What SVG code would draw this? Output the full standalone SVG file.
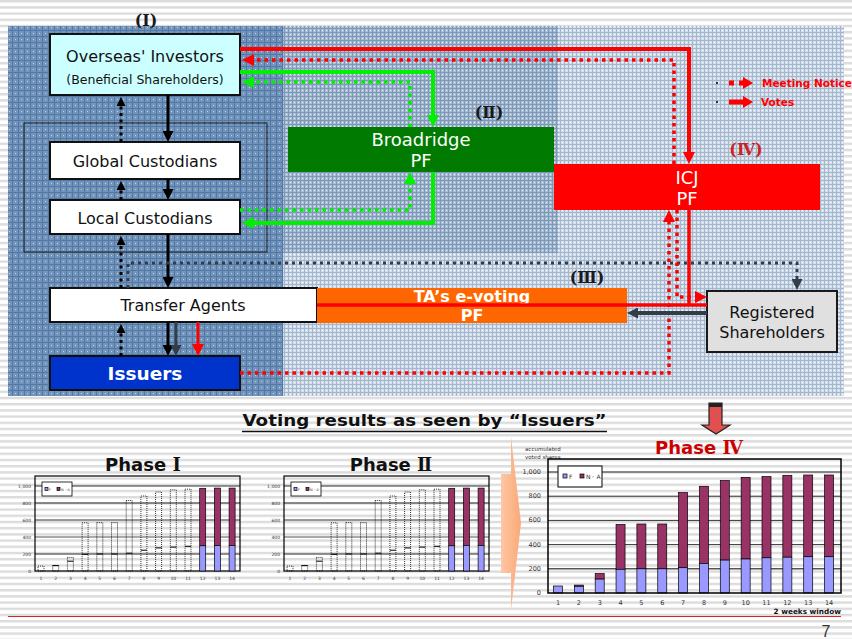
<svg xmlns="http://www.w3.org/2000/svg" width="852" height="639" viewBox="0 0 852 639">
<defs>
<style>
.t{font-family:"DejaVu Sans","Noto Sans CJK JP",sans-serif}
.lbl{font-size:16px;fill:#111;text-anchor:middle}
.wt{font-size:18px;fill:#fff;text-anchor:middle}
.wb{fill:#fff;font-weight:bold;text-anchor:middle}
.rn{font-family:"DejaVu Serif","Noto Sans CJK JP",serif;font-size:16px;font-weight:bold;text-anchor:middle;fill:#1a1a1a}
.cj{font-family:"DejaVu Serif","Noto Sans CJK JP",serif}
.box{stroke:#111;stroke-width:2}
.vr{fill:none;stroke:#ff0000;stroke-width:4}
.nr{fill:none;stroke:#ff0000;stroke-width:3.5;stroke-dasharray:3.5 4}
.vg{fill:none;stroke:#00f000;stroke-width:4}
.ng{fill:none;stroke:#00f000;stroke-width:3.5;stroke-dasharray:3.5 4}
.vk{fill:none;stroke:#000;stroke-width:3}
.nk{fill:none;stroke:#000;stroke-width:3;stroke-dasharray:3 3.5}
.vd{fill:none;stroke:#333d47;stroke-width:3}
.nd{fill:none;stroke:#333d47;stroke-width:3;stroke-dasharray:3 4}
.grid{stroke:#000;stroke-width:0.8}
.tk{font-family:"DejaVu Sans",sans-serif;fill:#333}
.pu{fill:#993366;stroke:#000;stroke-width:0.7}
.bl{fill:#9999ff;stroke:#000;stroke-width:0.7}
.dot{fill:none;stroke:#000;stroke-width:0.8;stroke-dasharray:1 1}
.ph{font-family:"DejaVu Sans","Noto Sans CJK JP",sans-serif;font-weight:bold;font-size:18px;text-anchor:middle}
</style>
<pattern id="stripes" width="10" height="6.2" patternUnits="userSpaceOnUse"><rect width="10" height="6.2" fill="#fff"/><rect width="10" height="2.4" fill="#dcdcdc"/></pattern>
<pattern id="pDark" width="6" height="6" patternUnits="userSpaceOnUse"><rect width="6" height="6" fill="#7394bb"/><path d="M0 0.5H6M0.5 0V6" stroke="#5279a5" stroke-width="1"/><rect x="3" y="3" width="1" height="1" fill="#c3d3e6"/></pattern>
<pattern id="pMid" width="4" height="4" patternUnits="userSpaceOnUse"><rect width="4" height="4" fill="#aabdd3"/><path d="M0 0.5H4M0.5 0V4" stroke="#7d9abb" stroke-width="1"/><rect x="2" y="2" width="1" height="1" fill="#eef3f8"/></pattern>
<pattern id="pLight" width="4" height="4" patternUnits="userSpaceOnUse"><rect width="4" height="4" fill="#d3deea"/><path d="M0 0.5H4M0.5 0V4" stroke="#a3b8cf" stroke-width="1"/><rect x="2" y="2" width="1" height="1" fill="#ffffff"/></pattern>
<linearGradient id="gOr" x1="0" y1="0" x2="1" y2="0"><stop offset="0" stop-color="#ffc7a4"/><stop offset="1" stop-color="#fba877"/></linearGradient>
<marker id="mR" markerWidth="12" markerHeight="12" refX="4" refY="6" orient="auto" markerUnits="userSpaceOnUse"><path d="M0,0L12,6L0,12z" fill="#ff0000"/></marker>
<marker id="mG" markerWidth="12" markerHeight="12" refX="4" refY="6" orient="auto" markerUnits="userSpaceOnUse"><path d="M0,0L12,6L0,12z" fill="#00f000"/></marker>
<marker id="mK" markerWidth="11" markerHeight="11" refX="3" refY="5.5" orient="auto" markerUnits="userSpaceOnUse"><path d="M0,0L11,5.5L0,11z" fill="#000"/></marker>
<marker id="mKs" markerWidth="9" markerHeight="9" refX="1" refY="4.5" orient="auto" markerUnits="userSpaceOnUse"><path d="M0,0L9,4.5L0,9z" fill="#000"/></marker>
<marker id="mD" markerWidth="11" markerHeight="11" refX="3" refY="5.5" orient="auto" markerUnits="userSpaceOnUse"><path d="M0,0L11,5.5L0,11z" fill="#333d47"/></marker>
</defs>

<!-- page background -->
<rect width="852" height="639" fill="url(#stripes)"/>

<!-- panel -->
<rect x="8" y="26" width="275" height="370" fill="url(#pDark)"/>
<rect x="283" y="26" width="275" height="227" fill="url(#pMid)"/>
<rect x="558" y="26" width="286" height="227" fill="url(#pLight)"/>
<rect x="283" y="253" width="561" height="143" fill="url(#pLight)"/>

<!-- phase labels -->
<text class="rn" x="146" y="26">(Ⅰ)</text>
<text class="rn" x="489" y="118">(Ⅱ)</text>
<text class="rn" x="587" y="283">(Ⅲ)</text>
<text class="rn" x="746" y="155" style="fill:#cc2222">(Ⅳ)</text>

<!-- legend -->
<g id="legend">
<rect x="716" y="82" width="2" height="2" fill="#333"/>
<rect x="716" y="101" width="2" height="2" fill="#333"/>
<rect x="729" y="80.5" width="5" height="5" fill="#ff0000"/>
<rect x="739" y="80.5" width="6" height="5" fill="#ff0000"/>
<path d="M743,77L753,83L743,89z" fill="#ff0000"/>
<rect x="729" y="99.5" width="16" height="5" fill="#ff0000"/>
<path d="M743,96L753,102L743,108z" fill="#ff0000"/>
<text class="t" x="762" y="87" font-size="10.5" font-weight="bold" fill="#ff0000">Meeting Notice</text>
<text class="t" x="761" y="106" font-size="10.5" font-weight="bold" fill="#ff0000">Votes</text>
</g>

<!-- custodian grouping -->
<rect id="custodians" x="24" y="123" width="243" height="129" fill="none" stroke="#1a1a1a" stroke-width="1"/>

<!-- nodes -->
<g id="overseas">
<rect x="50" y="34" width="190" height="61" fill="#ccffff" class="box"/>
<text class="t lbl" x="145" y="62">Overseas' Investors</text>
<text class="t" x="145" y="84" font-size="12.5" text-anchor="middle" fill="#111">(Beneficial Shareholders)</text>
</g>
<g id="global">
<rect x="50" y="142" width="190" height="37" fill="#fff" class="box"/>
<text class="t lbl" x="145" y="167">Global Custodians</text>
</g>
<g id="local">
<rect x="50" y="200" width="190" height="34" fill="#fff" class="box"/>
<text class="t lbl" x="145" y="224">Local Custodians</text>
</g>
<g id="transfer">
<rect x="50" y="288" width="267" height="34" fill="#fff" class="box"/>
<text class="t lbl" x="183" y="311">Transfer Agents</text>
</g>
<g id="issuers">
<rect x="50" y="356" width="190" height="34" fill="#0033cc" class="box"/>
<text class="t wb" x="145" y="380" font-size="18.5">Issuers</text>
</g>
<g id="broadridge">
<rect x="288" y="127" width="266" height="45" fill="#007a00"/>
<text class="t wt" x="421" y="146">Broadridge</text>
<text class="t wt" x="421" y="167">PF</text>
</g>
<g id="icj">
<rect x="554" y="164" width="266" height="46" fill="#ff0000"/>
<text class="t wt" x="687" y="184">ICJ</text>
<text class="t wt" x="687" y="205">PF</text>
</g>
<g id="ta-evoting">
<rect x="317" y="288" width="310" height="35" fill="#ff6600"/>
<text class="t wb" x="472" y="302" font-size="16">TA’s e-voting</text>
<text class="t wb" x="472" y="321" font-size="16">PF</text>
</g>
<g id="registered">
<rect x="707" y="291" width="130" height="61" fill="#e0e0e0" stroke="#1a1a1a" stroke-width="2"/>
<text class="t lbl" x="772" y="318">Registered</text>
<text class="t lbl" x="772" y="338">Shareholders</text>
</g>

<!-- connectors -->
<g id="connectors">
<path class="vr" d="M240,49H689V156" marker-end="url(#mR)"/>
<path class="nr" d="M674,164V60H250" marker-end="url(#mR)"/>
<path class="vg" d="M240,72H433V119" marker-end="url(#mG)"/>
<path class="ng" d="M410,127V82H250" marker-end="url(#mG)"/>
<path class="ng" d="M240,210H410V180" marker-end="url(#mG)"/>
<path class="vg" d="M433,172V223H250" marker-end="url(#mG)"/>
<path class="vk" d="M168,95V134" marker-end="url(#mK)"/>
<path class="vk" d="M168,179V192" marker-end="url(#mK)"/>
<path class="vk" d="M168,234V280" marker-end="url(#mK)"/>
<path class="vk" d="M168,322V348" marker-end="url(#mK)"/>
<path class="nk" d="M121,142V105" marker-end="url(#mKs)"/>
<path class="nk" d="M121,200V189" marker-end="url(#mKs)"/>
<path class="nk" d="M121,288V244" marker-end="url(#mKs)"/>
<path class="nk" d="M121,356V332" marker-end="url(#mKs)"/>
<path class="nd" d="M128,288V263H797V282" marker-end="url(#mD)"/>
<path class="vd" d="M176,322V348" marker-end="url(#mD)"/>
<path class="vr" style="stroke-width:3" d="M198,322V348" marker-end="url(#mR)"/>
<path class="nr" d="M240,373H669V218" marker-end="url(#mR)"/>
<path class="nr" d="M677,210V297H699" marker-end="url(#mR)"/>
<path class="vr" style="stroke-width:3.5" d="M689,210V305"/>
<path class="vr" style="stroke-width:3.5" d="M707,305H317"/>
<path class="vd" style="stroke-width:4" d="M707,313H635" marker-end="url(#mD)"/>
</g>

<!-- bottom section -->
<text class="t" x="424.5" y="426" font-size="16" font-weight="bold" text-anchor="middle" fill="#111" textLength="364" lengthAdjust="spacingAndGlyphs">Voting results as seen by “Issuers”</text>
<line x1="242" y1="431.5" x2="607" y2="431.5" stroke="#111" stroke-width="1.5"/>

<path d="M709,403H722V425H730L716,434L702,425H709z" fill="#e05050" stroke="#222" stroke-width="1.2"/>
<rect x="709" y="403" width="13" height="4" fill="#222"/>

<text class="ph" x="143" y="471" fill="#111">Phase <tspan class="cj">Ⅰ</tspan></text>
<text class="ph" x="391" y="471" fill="#111">Phase <tspan class="cj">Ⅱ</tspan></text>
<text class="ph" x="699" y="454" style="fill:#cc0000">Phase <tspan class="cj">Ⅳ</tspan></text>

<path d="M501,474H511V437L521,523L511,610V573H501z" fill="url(#gOr)"/>

<!-- Phase I chart (reused for Phase II) -->
<g id="chart1">
<path class="grid" d="M35,486H240M35,503H240M35,520H240M35,554H240"/>
<path d="M35,537H240" stroke="#555" stroke-width="1.2"/>
<rect x="35" y="476" width="205" height="95" fill="none" stroke="#000" stroke-width="1.2"/>
<g class="tk" font-size="4.5" text-anchor="end">
<text x="31" y="487.5">1,000</text><text x="31" y="504.5">800</text><text x="31" y="521.5">600</text><text x="31" y="538.5">400</text><text x="31" y="555.5">200</text><text x="31" y="572.5">0</text>
</g>
<g class="tk" font-size="4.5" text-anchor="middle">
<text x="41" y="580">1</text><text x="55.7" y="580">2</text><text x="70.4" y="580">3</text><text x="85.1" y="580">4</text><text x="99.8" y="580">5</text><text x="114.5" y="580">6</text><text x="129.2" y="580">7</text><text x="143.9" y="580">8</text><text x="158.6" y="580">9</text><text x="173.3" y="580">10</text><text x="188" y="580">11</text><text x="202.7" y="580">12</text><text x="217.4" y="580">13</text><text x="232.1" y="580">14</text>
</g>
<rect x="42" y="482" width="30" height="14" fill="#fff" stroke="#000" stroke-width="0.8"/>
<rect x="45" y="487.5" width="3" height="3" class="bl"/><text class="tk" x="49" y="490.5" font-size="3.5">F</text>
<rect x="57" y="487.5" width="3" height="3" class="pu"/><text class="tk" x="61" y="490.5" font-size="3.5">N・A</text>
<rect class="dot" x="38" y="566.1" width="6" height="4.9"/>
<rect class="dot" x="52.7" y="565.5" width="6" height="5.5"/>
<rect class="dot" x="67.4" y="557.4" width="6" height="13.6"/>
<rect class="dot" x="82.1" y="522.8" width="6" height="48.2"/>
<rect class="dot" x="96.8" y="522.6" width="6" height="48.4"/>
<rect class="dot" x="111.5" y="522.6" width="6" height="48.4"/>
<rect class="dot" x="126.2" y="500.5" width="6" height="70.5"/>
<rect class="dot" x="140.9" y="496" width="6" height="75"/>
<rect class="dot" x="155.6" y="492" width="6" height="79"/>
<rect class="dot" x="170.3" y="489.8" width="6" height="81.2"/>
<rect class="dot" x="185" y="489.2" width="6" height="81.8"/>
<path stroke="#000" stroke-width="1" d="M52.7,565.6h6M67.4,561.2h6M82.1,554.3h6M96.8,554h6M111.5,554h6M126.2,553.2h6M140.9,550.2h6M155.6,547.9h6M170.3,547.1h6M185,546.3h6"/>
<rect class="pu" x="199.7" y="488.3" width="6" height="57.5"/><rect class="bl" x="199.7" y="545.8" width="6" height="25.2"/>
<rect class="pu" x="214.4" y="488.1" width="6" height="57.4"/><rect class="bl" x="214.4" y="545.5" width="6" height="25.5"/>
<rect class="pu" x="229.1" y="488.1" width="6" height="57.4"/><rect class="bl" x="229.1" y="545.5" width="6" height="25.5"/>
</g>
<use href="#chart1" x="249"/>

<!-- Phase IV chart -->
<g id="chart4">
<text class="tk" x="525" y="451" font-size="5.5">accumulated</text>
<text class="tk" x="525" y="459" font-size="5.5">voted shares</text>
<path class="grid" d="M548,472H841M548,496.2H841M548,520.4H841M548,544.6H841"/>
<path d="M548,568.8H841" stroke="#555" stroke-width="1.5"/>
<g class="tk" font-size="6.5" text-anchor="end">
<text x="541" y="474">1,000</text><text x="541" y="498.2">800</text><text x="541" y="522.4">600</text><text x="541" y="546.6">400</text><text x="541" y="570.8">200</text><text x="541" y="595">0</text>
</g>
<g class="tk" font-size="6.5" text-anchor="middle">
<text x="558" y="605">1</text><text x="578.85" y="605">2</text><text x="599.7" y="605">3</text><text x="620.55" y="605">4</text><text x="641.4" y="605">5</text><text x="662.25" y="605">6</text><text x="683.1" y="605">7</text><text x="703.95" y="605">8</text><text x="724.8" y="605">9</text><text x="745.65" y="605">10</text><text x="766.5" y="605">11</text><text x="787.35" y="605">12</text><text x="808.2" y="605">13</text><text x="829.05" y="605">14</text>
</g>
<rect class="bl" x="553.5" y="586" width="9" height="7"/>
<rect class="pu" x="574.35" y="585.1" width="9" height="1.2"/><rect class="bl" x="574.35" y="586.3" width="9" height="6.7"/>
<rect class="pu" x="595.2" y="573.6" width="9" height="5.5"/><rect class="bl" x="595.2" y="579.1" width="9" height="13.9"/>
<rect class="pu" x="616.05" y="524.4" width="9" height="44.9"/><rect class="bl" x="616.05" y="569.3" width="9" height="23.7"/>
<rect class="pu" x="636.9" y="524" width="9" height="44.8"/><rect class="bl" x="636.9" y="568.8" width="9" height="24.2"/>
<rect class="pu" x="657.75" y="524" width="9" height="44.8"/><rect class="bl" x="657.75" y="568.8" width="9" height="24.2"/>
<rect class="pu" x="678.6" y="492.6" width="9" height="75.1"/><rect class="bl" x="678.6" y="567.7" width="9" height="25.3"/>
<rect class="pu" x="699.45" y="486.3" width="9" height="77.1"/><rect class="bl" x="699.45" y="563.4" width="9" height="29.6"/>
<rect class="pu" x="720.3" y="480.5" width="9" height="79.6"/><rect class="bl" x="720.3" y="560.1" width="9" height="32.9"/>
<rect class="pu" x="741.15" y="477.4" width="9" height="81.6"/><rect class="bl" x="741.15" y="559" width="9" height="34"/>
<rect class="pu" x="762" y="476.6" width="9" height="81.2"/><rect class="bl" x="762" y="557.8" width="9" height="35.2"/>
<rect class="pu" x="782.85" y="475.3" width="9" height="81.9"/><rect class="bl" x="782.85" y="557.2" width="9" height="35.8"/>
<rect class="pu" x="803.7" y="475" width="9" height="81.7"/><rect class="bl" x="803.7" y="556.7" width="9" height="36.3"/>
<rect class="pu" x="824.55" y="475" width="9" height="81.7"/><rect class="bl" x="824.55" y="556.7" width="9" height="36.3"/>
<rect x="548" y="459" width="293" height="134" fill="none" stroke="#000" stroke-width="1.5"/>
<rect x="558" y="466" width="44" height="21" fill="#fff" stroke="#000" stroke-width="1"/>
<rect class="bl" x="563" y="474" width="4" height="4"/><text class="tk" x="569" y="478.5" font-size="6">F</text>
<rect class="pu" x="580" y="474" width="4" height="4"/><text class="tk" x="586" y="478.5" font-size="6">N・A</text>
<text class="t" x="841" y="614" font-size="7.3" font-weight="bold" text-anchor="end" fill="#111">2 weeks window</text>
</g>

<line x1="8" y1="616.5" x2="841" y2="616.5" stroke="#e02020" stroke-width="1"/>
<text x="826" y="637" font-family="Liberation Sans, sans-serif" font-size="16" text-anchor="middle" fill="#333">7</text>
</svg>
